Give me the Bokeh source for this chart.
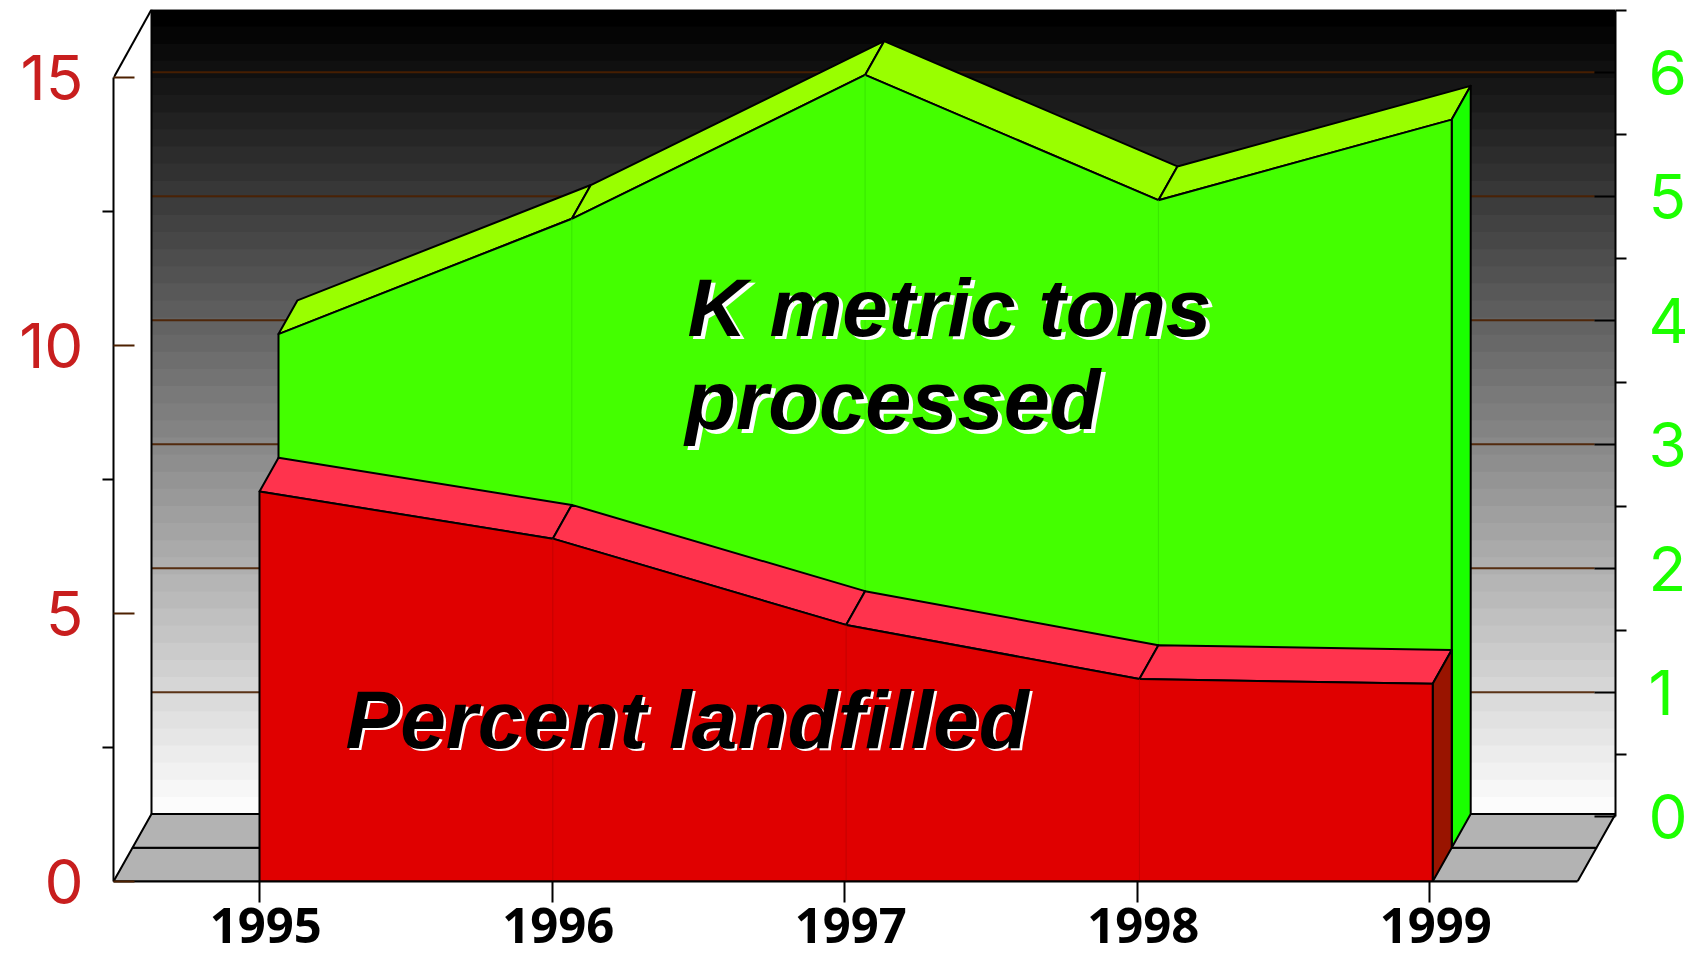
from bokeh.plotting import figure
from bokeh.models import Range1d, LinearAxis, FixedTicker
from bokeh.core.properties import value
from bokeh.embed import file_html
from bokeh.resources import INLINE

# ---- data
years = [1995, 1996, 1997, 1998, 1999]
tons_processed = [4.16, 5.09, 6.25, 5.24, 5.89]       # right axis
percent_landfilled = [7.28, 6.40, 4.79, 3.78, 3.69]   # left axis
left_major = [0, 5, 10, 15]
left_minor = [2.5, 7.5, 12.5]
right_major = [0, 1, 2, 3, 4, 5, 6]
right_minor = [0.5, 1.5, 2.5, 3.5, 4.5, 5.5, 6.5]
label_tons = ["K metric tons", "processed"]
label_pct = ["Percent landfilled"]

# ---- styles
RED_TXT, GREEN_TXT = "#c81e1e", "#1cff00"
G_FRONT, G_TOP, G_SIDE = "#44ff00", "#99ff00", "#1aff00"
R_FRONT, R_TOP, R_SIDE = "#e00000", "#ff334d", "#991400"
GRID = "#4d2000"
FLOOR = "#b3b3b3"

# ---- frame geometry in screen px of the frame
FW, FH = 1502, 872
X0, X_STEP = 146.0, 293.3          # 1995 position and year spacing
Y_UNIT_L = 53.57                   # px per left-axis unit
Y_UNIT_R = 124.0                   # px per right-axis unit
R_ZERO = 65.3                      # right-axis zero above frame bottom
DX, DY = 19.0, 33.75               # one depth step
TICK_STEP = 292.5

xr = Range1d(1995 - X0 / X_STEP, 1995 + (FW - X0) / X_STEP)
yl = Range1d(0, FH / Y_UNIT_L)
yr = Range1d(-R_ZERO / Y_UNIT_R, (FH - R_ZERO) / Y_UNIT_R)

p = figure(width=1695, height=955, output_backend="svg", toolbar_location=None,
           x_range=xr, y_range=yl, frame_width=FW, frame_height=FH,
           min_border_left=113, min_border_right=80, min_border_top=9, min_border_bottom=74,
           background_fill_color="white", border_fill_color="white", outline_line_color=None)
p.xaxis.visible = False
p.yaxis.visible = False
p.xgrid.visible = False
p.ygrid.visible = False

p.extra_y_ranges = {"right": yr}
p.extra_x_ranges = {
    "ticks": Range1d(1995 - X0 / TICK_STEP, 1995 + (FW - X0) / TICK_STEP),
    "labels": Range1d(1995 - (X0 + 6.3) / TICK_STEP, 1995 + (FW - X0 - 6.3) / TICK_STEP),
}

def dxu(n):
    return n * DX / X_STEP

def dyl(n):
    return n * DY / Y_UNIT_L

def dyr(n):
    return n * DY / Y_UNIT_R

x_left, x_right = xr.start, xr.end
wall_left = x_left + dxu(2)
floor_right = x_right - dxu(2)

# ---- back wall: gradient in bands, black at the top (painted top-down, overlapping)
N = 47
top = FH / Y_UNIT_L
bot = dyl(2)
for i in range(N):
    g = round(i * 252 / (N - 1))
    col = "#%02x%02x%02x" % (g, g, g)
    y1 = top - (top - bot) * i / N
    p.quad(left=wall_left, right=x_right, top=y1, bottom=bot, fill_color=col, line_color=None)

# ---- gridlines
gx = [v for v in right_major if v > 0]
p.segment(x0=[wall_left] * len(gx), x1=[x_right - dxu(1.1)] * len(gx), y0=gx, y1=gx,
          y_range_name="right", line_color=GRID, line_width=2, line_alpha=0.9)

# ---- wall outline, floor
p.line([wall_left, wall_left], [bot, top], line_color="black", line_width=2)
p.line([wall_left, x_right], [top, top], line_color="#555555", line_width=1)
p.line([x_left, wall_left], [15, top], line_color="black", line_width=2)
for a, b in ((0, 1), (1, 2)):
    p.patch([x_left + dxu(a), x_left + dxu(b), floor_right + dxu(b), floor_right + dxu(a)],
            [dyl(a), dyl(b), dyl(b), dyl(a)], fill_color=FLOOR, line_color="black", line_width=2)

# ---- green layer (second row, right axis)
gx = [y + dxu(1) for y in years]
g_front_y = [v - dyr(1) for v in tons_processed]
g_base = (DY - R_ZERO) / Y_UNIT_R
kw = dict(y_range_name="right", line_color="black", line_width=2, line_join="round")
for i in range(4):
    p.patch([gx[i], gx[i] + dxu(1), gx[i + 1] + dxu(1), gx[i + 1]],
            [g_front_y[i], tons_processed[i], tons_processed[i + 1], g_front_y[i + 1]],
            fill_color=G_TOP, **kw)
p.patch([gx[-1], gx[-1] + dxu(1), gx[-1] + dxu(1), gx[-1]],
        [g_front_y[-1], tons_processed[-1], g_base + dyr(1), g_base],
        fill_color=G_SIDE, **kw)
p.patch([gx[0]] + gx + [gx[-1]], [g_base] + g_front_y + [g_base], fill_color=G_FRONT, **kw)
p.segment(x0=gx[1:-1], x1=gx[1:-1], y0=[g_base] * 3, y1=g_front_y[1:-1], y_range_name="right",
          line_color="#33dd00", line_width=0.7)

# ---- red layer (front row, left axis)
kw = dict(line_color="black", line_width=2, line_join="round")
for i in range(4):
    p.patch([years[i], years[i] + dxu(1), years[i + 1] + dxu(1), years[i + 1]],
            [percent_landfilled[i], percent_landfilled[i] + dyl(1),
             percent_landfilled[i + 1] + dyl(1), percent_landfilled[i + 1]],
            fill_color=R_TOP, **kw)
p.patch([years[-1], years[-1] + dxu(1), years[-1] + dxu(1), years[-1]],
        [percent_landfilled[-1], percent_landfilled[-1] + dyl(1), dyl(1), 0],
        fill_color=R_SIDE, **kw)
p.patch([years[0]] + years + [years[-1]], [0] + percent_landfilled + [0], fill_color=R_FRONT, **kw)
p.segment(x0=years[1:-1], x1=years[1:-1], y0=[0] * 3, y1=percent_landfilled[1:-1],
          line_color="#b80000", line_width=0.7)

# ---- text labels with white drop shadow
def label(x, y, t, size, font, off):
    for col, dx, dy in (("white", off[0], off[1]), ("black", 0, 0)):
        p.text(x=[x], y=[y], text=[t], text_font=value(font), text_font_style="bold italic",
               text_font_size=size, text_color=col, x_offset=dx, y_offset=dy - 29.5,
               text_align="left", text_baseline="alphabetic")

label(1996.459, 10.17, label_tons[0], "82px", "Liberation Sans", (4, 3.5))
label(1996.452, 8.42, label_tons[1], "83px", "Liberation Sans", (4, 3.5))
label(1995.293, 2.48, label_pct[0], "82px", "Liberation Sans", (2.5, 2))

# ---- axes
left = LinearAxis(ticker=FixedTicker(ticks=left_major, minor_ticks=left_minor), bounds=(0, 15))
left.major_tick_in, left.major_tick_out = 21, 0
left.minor_tick_in, left.minor_tick_out = 0, 11
left.major_tick_line_color = GRID
left.axis_line_color = left.minor_tick_line_color = "black"
left.axis_line_width = left.major_tick_line_width = left.minor_tick_line_width = 2
left.major_label_text_color = RED_TXT
left.major_label_text_font = "Inter"
left.major_label_text_font_size = "62px"
left.major_label_standoff = 19
p.add_layout(left, "left")

right = LinearAxis(y_range_name="right", ticker=FixedTicker(ticks=right_major, minor_ticks=right_minor),
                   bounds=(0, 6.5))
right.major_tick_in, right.major_tick_out = 21, 0
right.minor_tick_in, right.minor_tick_out = 0, 11
right.axis_line_color = right.major_tick_line_color = right.minor_tick_line_color = "black"
right.axis_line_width = right.major_tick_line_width = right.minor_tick_line_width = 2
right.major_label_text_color = GREEN_TXT
right.major_label_text_font = "Inter"
right.major_label_text_font_size = "62px"
right.major_label_standoff = 22
p.add_layout(right, "right")

below = LinearAxis(x_range_name="ticks", ticker=FixedTicker(ticks=years, minor_ticks=[]),
                   bounds=(1995 - X0 / TICK_STEP, 1995 + (FW - X0 - 2 * DX) / TICK_STEP))
below.major_tick_in, below.major_tick_out = 0, 21
below.minor_tick_in = below.minor_tick_out = 0
below.axis_line_color = below.major_tick_line_color = "black"
below.axis_line_width = below.major_tick_line_width = 2
below.major_label_text_font_size = "0px"
below.major_label_overrides = {y: "" for y in years}
below.major_label_text_color = None
p.add_layout(below, "below")

labels_axis = LinearAxis(x_range_name="labels", ticker=FixedTicker(ticks=years, minor_ticks=[]))
labels_axis.axis_line_color = None
labels_axis.major_tick_line_color = None
labels_axis.minor_tick_line_color = None
labels_axis.major_tick_in = labels_axis.major_tick_out = 0
labels_axis.major_label_text_color = "black"
labels_axis.major_label_text_font = "Open Sans"
labels_axis.major_label_text_font_style = "bold"
labels_axis.major_label_text_font_size = "49px"
labels_axis.major_label_standoff = 5
p.add_layout(labels_axis, "below")

open("out.html", "w").write(file_html(p, INLINE))
